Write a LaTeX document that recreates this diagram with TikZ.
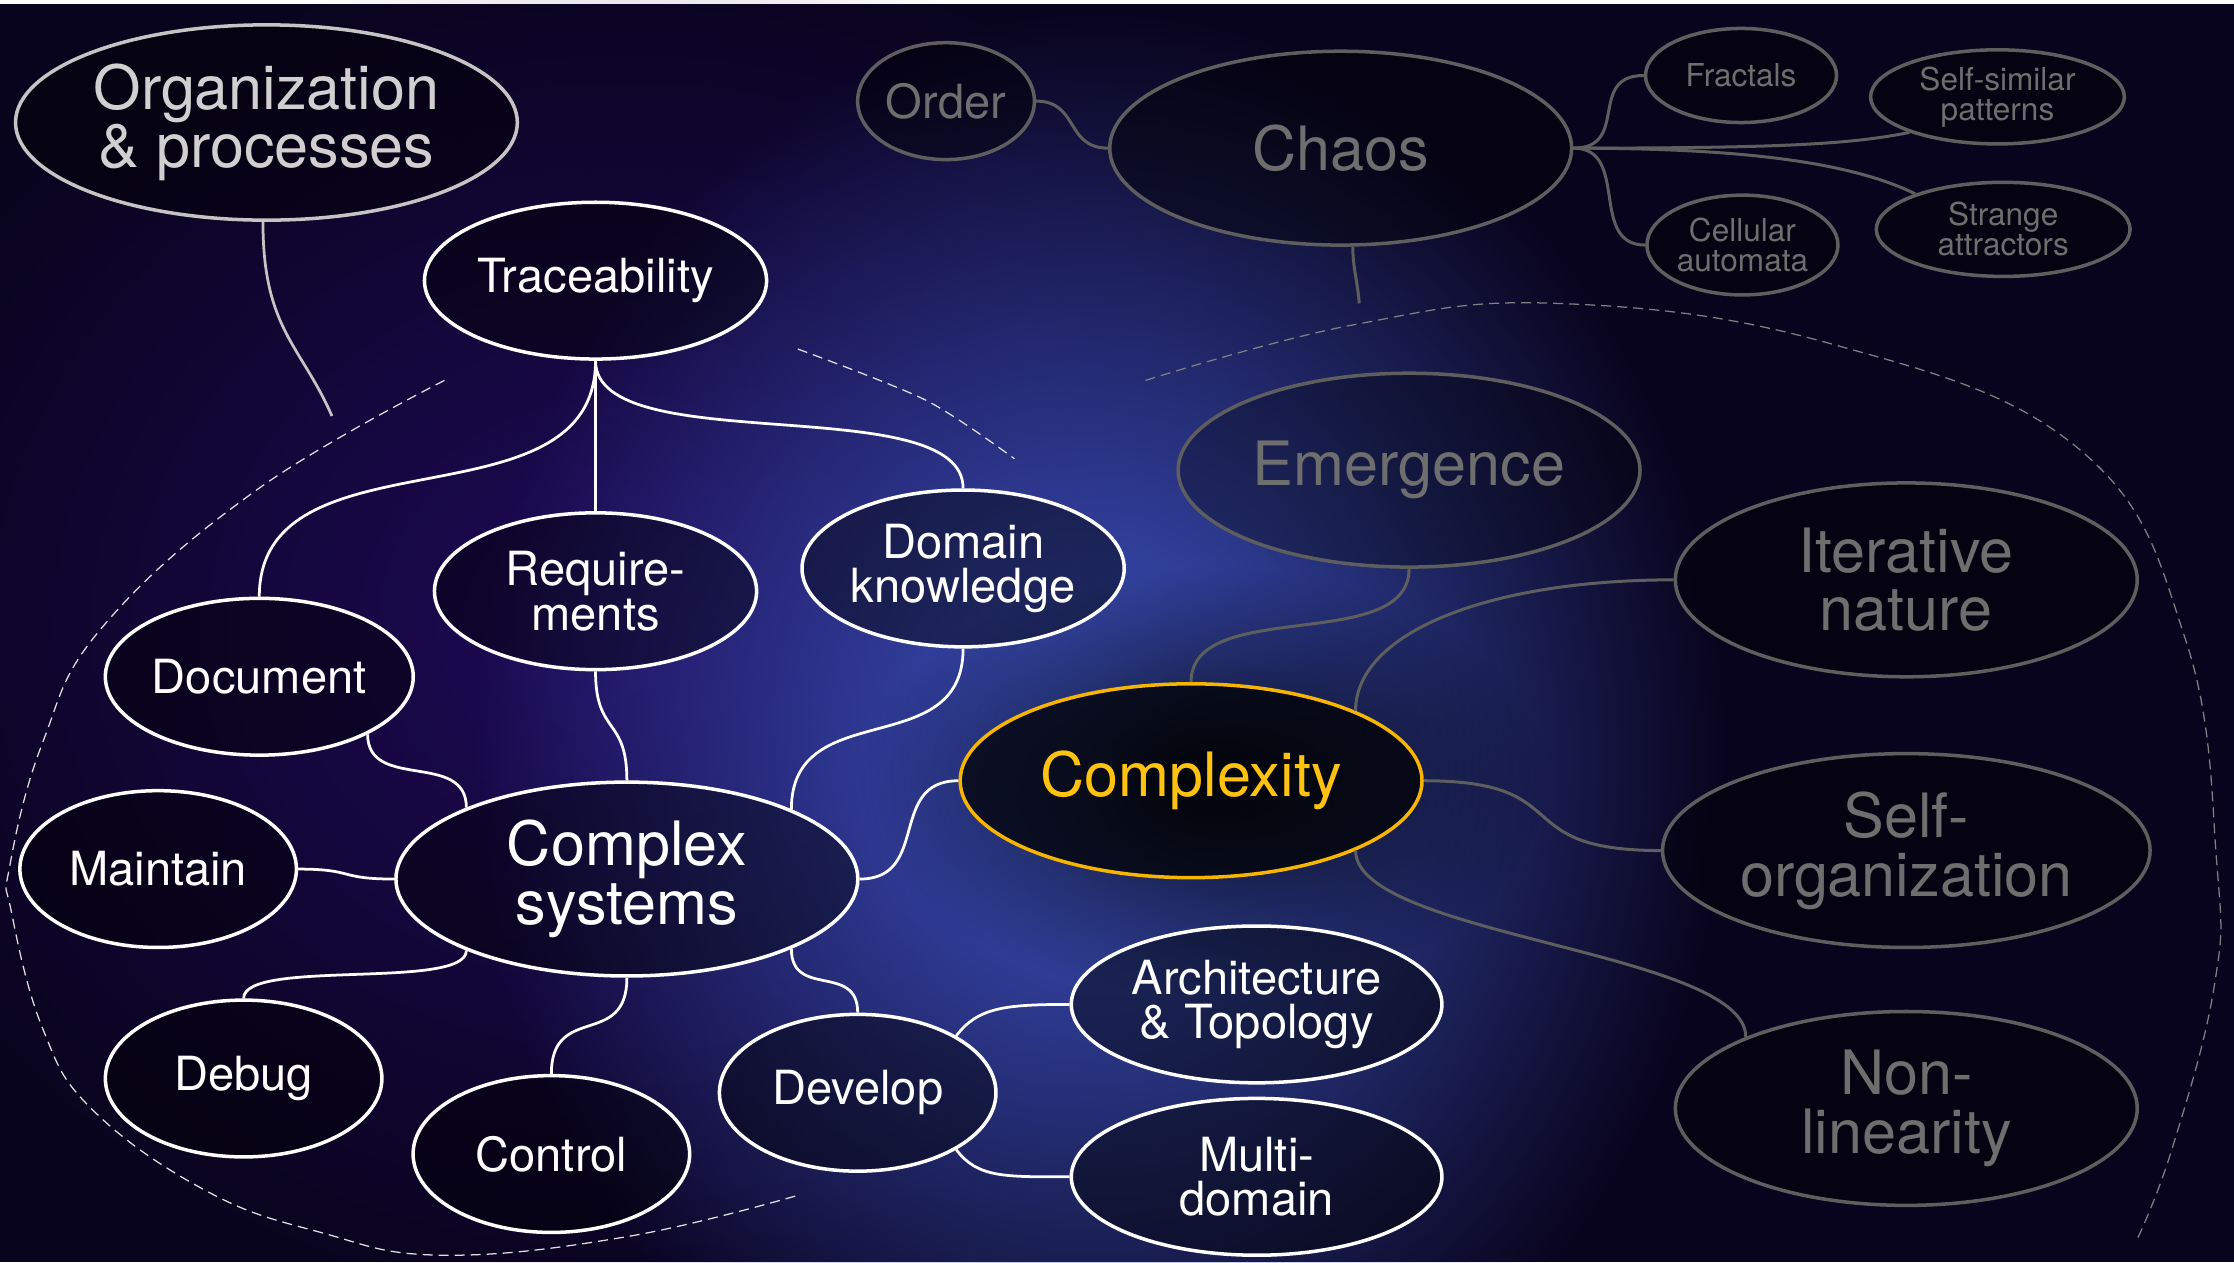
\documentclass[tikz,border=0pt]{standalone}
\usepackage{fontspec}
\setmainfont{TeX Gyre Heros}
\usetikzlibrary{shapes.geometric,fadings}

\definecolor{bgdark}{HTML}{09041E}
\definecolor{bgpurple}{HTML}{1E0A58}
\definecolor{bgblue}{HTML}{3D55C0}
\definecolor{gline}{HTML}{5E5E5E}
\definecolor{gtext}{HTML}{6E6E6E}
\definecolor{orgline}{HTML}{C4C4C4}
\definecolor{orgtext}{HTML}{D0D0D0}
\definecolor{cxyellow}{HTML}{F7B500}
\definecolor{cxtext}{HTML}{FFC20E}

\tikzfading[name=glowfade, inner color=transparent!0, outer color=transparent!100]

\newcommand{\bigtxt}{\fontsize{12.2pt}{11.7pt}\selectfont}
\newcommand{\midtxt}{\fontsize{9.4pt}{8.9pt}\selectfont}
\newcommand{\smalltxt}{\fontsize{6.3pt}{6pt}\selectfont}

\begin{document}
\begin{tikzpicture}[x=0.01cm, y=-0.01cm,
    bubble/.style={ellipse, inner sep=0pt, align=center, line width=0.7pt, fill=black, fill opacity=0.42, text opacity=1},
    wbubble/.style={bubble, draw=white, text=white},
    gbubble/.style={bubble, draw=gline, text=gtext},
    bigsize/.style={minimum width=3.24cm, minimum height=1.36cm, font=\bigtxt},
    midsize/.style={minimum height=1.10cm, font=\midtxt},
    smallsize/.style={minimum height=0.66cm, font=\smalltxt},
    wlink/.style={draw=white, line width=0.55pt},
    glink/.style={draw=gline, line width=0.6pt},
    dashline/.style={dash pattern=on 2pt off 1.2pt, line width=0.25pt}]
    \useasboundingbox (0,0) rectangle (1568,886);
    \begin{scope}
        \clip (0,0) rectangle (1568,886);
        \fill[white] (0,0) rectangle (1568,886);
        \fill[bgdark] (0,2.8) rectangle (1568,886);
        \fill[bgpurple, path fading=glowfade] (440,440) ellipse [x radius=560, y radius=480];
        \fill[bgblue, path fading=glowfade] (770,530) ellipse [x radius=440, y radius=520];
        \fill[black, fill opacity=0.8, path fading=glowfade] (845,548) ellipse [x radius=240, y radius=150];
    \end{scope}

    \draw[dashline, draw=white!88!black] plot[smooth, tension=0.7] coordinates {(312,267) (180,344) (72,440) (30,521) (7,607) (8,640) (30,722) (65,779) (145,836) (225,865) (310,881) (440,868) (560,839)};
    \draw[dashline, draw=white!88!black] plot[smooth] coordinates {(560,245) (650,281) (712,322)};
    \draw[dashline, draw=gray] plot[smooth, tension=0.7] coordinates {(804,267) (950,228) (1094,213) (1284,241) (1459,315) (1534,449) (1556,607) (1554,693) (1524,808) (1499,872)};

    \node[bubble, draw=orgline, text=orgtext, minimum width=3.52cm, minimum height=1.37cm, font=\bigtxt] (org) at (187,86) {Organization\\\& processes};
    \node[wbubble, midsize, minimum width=2.40cm] (trace) at (418,197) {Traceability};
    \node[gbubble, midsize, minimum width=1.24cm, minimum height=0.82cm] (order) at (664,71) {Order};
    \node[gbubble, bigsize] (chaos) at (941,104) {Chaos};
    \node[gbubble, smallsize, minimum width=1.34cm] (fract) at (1222,53) {Fractals};
    \node[gbubble, smallsize, minimum width=1.78cm] (selfsim) at (1402,68) {Self-similar\\patterns};
    \node[gbubble, smallsize, minimum width=1.34cm, minimum height=0.70cm] (cell) at (1223,172) {Cellular\\automata};
    \node[gbubble, smallsize, minimum width=1.78cm] (strange) at (1406,161) {Strange\\attractors};

    \node[gbubble, bigsize, fill opacity=0.3] (emer) at (989,330) {Emergence};
    \node[gbubble, bigsize] (iter) at (1338,407) {Iterative\\nature};
    \node[gbubble, bigsize, minimum width=3.42cm] (selfo) at (1338,597) {Self-\\organization};
    \node[gbubble, bigsize] (nonl) at (1338,778) {Non-\\linearity};
    \node[bubble, bigsize, draw=cxyellow, text=cxtext, fill opacity=0.7] (cxty) at (836,548) {Complexity};

    \node[wbubble, midsize, minimum width=2.26cm] (dom) at (676,399) {Domain\\knowledge};
    \node[wbubble, midsize, minimum width=2.26cm] (req) at (418,415) {Require-\\ments};
    \node[wbubble, midsize, minimum width=2.16cm] (docu) at (182,475) {Document};
    \node[wbubble, bigsize] (cplx) at (440,617) {Complex\\systems};
    \node[wbubble, midsize, minimum width=1.94cm] (maint) at (111,610) {Maintain};
    \node[wbubble, midsize, minimum width=1.94cm] (debug) at (171,757) {Debug};
    \node[wbubble, midsize, minimum width=1.94cm] (ctrl) at (387,810) {Control};
    \node[wbubble, midsize, minimum width=1.94cm] (devel) at (602,767) {Develop};
    \node[wbubble, midsize, minimum width=2.60cm] (arch) at (882,705) {Architecture\\\& Topology};
    \node[wbubble, midsize, minimum width=2.60cm] (multi) at (882,826) {Multi-\\domain};

    \coordinate (orgend) at (233,292);
    \coordinate (chaosend) at (954,213);

    \draw[draw=orgline, line width=0.55pt] (org.-92) .. controls +(0,75) and +(-22,-50) .. (orgend);
    \draw[wlink] (trace.south) .. controls +(0,120) and +(0,-120) .. (docu.north);
    \draw[wlink] (trace.south) -- (req.north);
    \draw[wlink] (trace.south) .. controls +(0,70) and +(0,-70) .. (dom.north);
    \draw[wlink] (req.south) .. controls +(0,45) and +(0,-45) .. (cplx.north);
    \draw[wlink] (docu.-28) .. controls +(0,40) and +(0,-40) .. (cplx.156.5);
    \draw[wlink] (maint.east) .. controls +(40,0) and +(-40,0) .. (cplx.west);
    \draw[wlink] (cplx.-156.5) .. controls +(0,28) and +(0,-28) .. (debug.north);
    \draw[wlink] (cplx.south) .. controls +(0,50) and +(0,-50) .. (ctrl.north);
    \draw[wlink] (cplx.-23.5) .. controls +(0,35) and +(0,-35) .. (devel.north);
    \draw[wlink] (cplx.23.5) .. controls +(0,-80) and +(0,80) .. (dom.south);
    \draw[wlink] (cplx.east) .. controls +(50,0) and +(-50,0) .. (cxty.west);
    \draw[wlink] (devel.30) .. controls +(15,-20) and +(-45,0) .. (arch.west);
    \draw[wlink] (devel.-30) .. controls +(15,20) and +(-45,0) .. (multi.west);

    \draw[glink] (order.east) .. controls +(30,0) and +(-30,0) .. (chaos.west);
    \draw[glink] (chaos.-83) .. controls +(0,15) and +(-1,-15) .. (chaosend);
    \draw[glink] (chaos.east) .. controls +(40,0) and +(-40,0) .. (fract.west);
    \draw[glink] (chaos.east) .. controls +(40,0) and +(-40,0) .. (cell.west);
    \draw[glink] (chaos.east) .. controls +(150,0) and +(-40,8) .. (selfsim.-158);
    \draw[glink] (chaos.east) .. controls +(120,0) and +(-45,-22) .. (strange.158);
    \draw[glink] (emer.south) .. controls +(0,60) and +(0,-60) .. (cxty.north);
    \draw[glink] (iter.west) .. controls +(-130,0) and +(0,-55) .. (cxty.23);
    \draw[glink] (cxty.east) .. controls +(110,0) and +(-110,0) .. (selfo.west);
    \draw[glink] (cxty.-23) .. controls +(0,60) and +(0,-60) .. (nonl.156.7);
\end{tikzpicture}
\end{document}
